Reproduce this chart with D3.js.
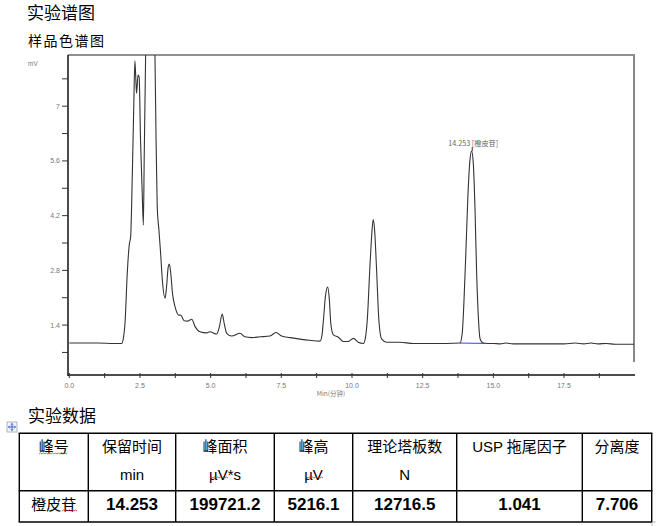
<!DOCTYPE html>
<html><head><meta charset="utf-8">
<script src="https://cdn.jsdelivr.net/npm/d3@7"></script>
<style>body{margin:0;background:#fff}svg{display:block}</style>
</head><body>
<svg id="c" width="670" height="526"></svg>
<script>
// ---- data ----
const chromTime = [0,1.0,1.6,1.85,1.92,1.97,2.05,2.12,2.17,2.23,2.28,2.32,2.36,2.38,2.43,2.47,2.52,2.58,2.62,2.65,2.70,2.78,2.87,2.96,3.03,3.07,3.11,3.17,3.23,3.30,3.39,3.44,3.50,3.54,3.59,3.65,3.74,3.86,3.95,4.06,4.18,4.33,4.45,4.62,4.86,4.98,5.21,5.31,5.41,5.48,5.57,5.74,6.04,6.21,6.45,6.75,7.10,7.31,7.51,7.81,8.16,8.50,8.87,8.94,8.99,9.06,9.14,9.20,9.25,9.34,9.52,9.69,9.87,10.05,10.22,10.40,10.48,10.54,10.64,10.71,10.75,10.80,10.87,10.95,11.05,11.23,11.70,12.17,13.35,13.82,13.90,13.96,14.03,14.10,14.17,14.23,14.29,14.35,14.41,14.47,14.53,14.62,14.77,15.0,15.24,15.45,15.7,16.5,17.5,17.9,18.2,18.45,18.7,19.0,19.3,19.98];
const chromSignal = [0.94,0.94,0.93,0.93,1.1,1.44,2.72,3.45,3.66,5.28,6.98,8.16,7.58,7.33,7.8,7.75,6.13,4.77,3.96,5.7,8.31,11.5,12.5,11.5,8.31,6.13,4.43,3.83,3.24,2.47,2.09,2.38,2.89,2.96,2.72,2.21,1.87,1.66,1.65,1.51,1.50,1.55,1.36,1.23,1.20,1.23,1.17,1.36,1.68,1.44,1.19,1.12,1.19,1.10,1.08,1.10,1.12,1.21,1.12,1.08,1.04,1.01,0.99,1.15,1.53,2.13,2.37,2.04,1.44,1.15,1.09,0.98,0.98,1.06,0.96,0.93,1.1,1.53,2.98,3.83,4.10,3.83,2.81,1.53,1.04,0.96,0.96,0.93,0.93,0.94,1.2,2.0,3.3,4.7,5.6,5.85,5.55,4.4,2.7,1.6,1.05,0.95,0.93,0.93,0.92,0.94,0.92,0.92,0.92,0.94,0.92,0.94,0.92,0.93,0.91,0.91];
const baselineTime = [13.82, 14.77];
const baselineSignal = [0.94, 0.93];
const peakTime = 14.253, peakSignal = 5.85, peakName = "14.253 [橙皮苷]";
const xMajorTicks = [0,2.5,5,7.5,10,12.5,15,17.5];
const xMinorTicks = [1.25,3.75,6.25,8.75,11.25,13.75,16.25,18.75];
const yMajorTicks = [1.4,2.8,4.2,5.6,7];
const yMinorTicks = [0.7,2.1,3.5,4.9,6.3,7.7];
const yTickLabels = ["1.4","2.8","4.2","5.6","7"];
const tableHeaders = ["峰号","保留时间","峰面积","峰高","理论塔板数","USP 拖尾因子","分离度"];
const tableUnits = ["","min","µV*s","µV","N","",""];
const tableRow = ["橙皮苷","14.253","199721.2","5216.1","12716.5","1.041","7.706"];

// ---- drawing ----
const svg = d3.select("#c");
const cjk = "'Noto Sans CJK SC','Noto Sans',sans-serif";
const lat = "'Liberation Sans',Arial,sans-serif";

svg.append("text").attr("x",27).attr("y",19).attr("font-family",cjk).attr("font-size",17).attr("fill","#000").text("实验谱图");
svg.append("text").attr("x",28).attr("y",46).attr("font-family",cjk).attr("font-size",14).attr("letter-spacing",1.5).attr("fill","#000").text("样品色谱图");

const L=68, R=634, T=55, B=375;
const x = d3.scaleLinear().domain([0,20]).range([69.3, 634.7]);
const y = d3.scaleLinear().domain([0,8.31]).range([379.8, 55]);

svg.append("defs").append("clipPath").attr("id","pc").append("rect").attr("x",L).attr("y",T).attr("width",R-L).attr("height",B-T);

// frame
svg.append("line").attr("x1",L).attr("x2",R+1).attr("y1",T).attr("y2",T).attr("stroke","#222").attr("stroke-width",1.2);
svg.append("line").attr("x1",R).attr("x2",R).attr("y1",T).attr("y2",362).attr("stroke","#888").attr("stroke-width",2);
svg.append("line").attr("x1",L).attr("x2",L).attr("y1",T).attr("y2",B+1).attr("stroke","#111").attr("stroke-width",1.5);
svg.append("line").attr("x1",L).attr("x2",635).attr("y1",B).attr("y2",B).attr("stroke","#111").attr("stroke-width",1.5);

// y ticks
const gy = svg.append("g");
gy.selectAll("line.ma").data(yMajorTicks).join("line").attr("x1",L-6).attr("x2",L).attr("y1",d=>y(d)).attr("y2",d=>y(d)).attr("stroke","#333");
gy.selectAll("line.mi").data(yMinorTicks).join("line").attr("class","mi").attr("x1",L-6).attr("x2",L).attr("y1",d=>y(d)).attr("y2",d=>y(d)).attr("stroke","#333");
gy.selectAll("text").data(yMajorTicks).join("text").attr("x",L-8).attr("y",d=>y(d)+2.5).attr("text-anchor","end")
  .attr("font-family",lat).attr("font-size",7).attr("fill","#777").text((d,i)=>yTickLabels[i]);
svg.append("text").attr("x",28).attr("y",66).attr("font-family",lat).attr("font-size",6.5).attr("fill","#777").text("mV");

// x ticks
const gx = svg.append("g");
gx.selectAll("line.ma").data(xMajorTicks).join("line").attr("x1",d=>x(d)).attr("x2",d=>x(d)).attr("y1",B-2).attr("y2",B+3).attr("stroke","#333");
gx.selectAll("line.mi").data(xMinorTicks).join("line").attr("class","mi").attr("x1",d=>x(d)).attr("x2",d=>x(d)).attr("y1",B-2).attr("y2",B+3).attr("stroke","#333");
gx.selectAll("text").data(xMajorTicks).join("text").attr("x",d=>x(d)).attr("y",388).attr("text-anchor","middle")
  .attr("font-family",lat).attr("font-size",7).attr("fill","#777").text(d=>d.toFixed(1));
svg.append("text").attr("x",331).attr("y",396).attr("text-anchor","middle").attr("font-family",cjk).attr("font-size",6.5).attr("fill","#777").text("Min(分钟)");

// chromatogram
const pts = chromTime.map((t,i)=>[t,chromSignal[i]]);
const line = d3.line().x(d=>x(d[0])).y(d=>y(d[1])).curve(d3.curveMonotoneX);
svg.append("path").attr("clip-path","url(#pc)").attr("d",line(pts)).attr("fill","none").attr("stroke","#333").attr("stroke-width",1.1);
svg.append("path").attr("d",d3.line().x(d=>x(d[0])).y(d=>y(d[1]))(baselineTime.map((t,i)=>[t,baselineSignal[i]])))
  .attr("fill","none").attr("stroke","#3344ff").attr("stroke-width",1);
// peak label
svg.append("line").attr("x1",x(peakTime)).attr("x2",x(peakTime)).attr("y1",y(peakSignal)-4).attr("y2",y(peakSignal)).attr("stroke","#333");
svg.append("text").attr("x",x(peakTime)+1).attr("y",y(peakSignal)-5).attr("text-anchor","middle").attr("font-family",cjk).attr("font-size",7.2).attr("fill","#666").text(peakName);

// table
svg.append("text").attr("x",28).attr("y",422).attr("font-family",cjk).attr("font-size",17).attr("fill","#000").text("实验数据");
// move handle
const mh = svg.append("g");
mh.append("rect").attr("x",7).attr("y",422).attr("width",10).attr("height",10).attr("fill","#f4f6fb").attr("stroke","#9aa3b5").attr("stroke-width",0.8);
mh.append("path").attr("d","M12,423.5V430.5M8.5,427H15.5M10.8,424.7L12,423.5L13.2,424.7M10.8,429.3L12,430.5L13.2,429.3M9.7,425.8L8.5,427L9.7,428.2M14.3,425.8L15.5,427L14.3,428.2").attr("fill","none").attr("stroke","#2a5bbf").attr("stroke-width",0.9);

const colX = [19.3,88.3,175.7,274.3,352.7,456.7,582.3,651.7];
const tT=433.3, tM=490.7, tB=522;
const gt = svg.append("g");
colX.forEach(cx=>gt.append("line").attr("x1",cx).attr("x2",cx).attr("y1",tT).attr("y2",tB).attr("stroke","#000").attr("stroke-width",1.4));
[tT,tM,tB].forEach(ry=>gt.append("line").attr("x1",colX[0]-0.7).attr("x2",colX[7]+0.7).attr("y1",ry).attr("y2",ry).attr("stroke","#000").attr("stroke-width",1.4));
const mid = i=>(colX[i]+colX[i+1])/2;
tableHeaders.forEach((h,i)=>gt.append("text").attr("x",mid(i)).attr("y",452).attr("text-anchor","middle").attr("font-family",i===5?"'Liberation Sans',"+cjk:cjk).attr("font-size",15).attr("fill","#000").text(h));
tableUnits.forEach((u,i)=>gt.append("text").attr("x",mid(i)).attr("y",480).attr("text-anchor","middle").attr("font-family",lat).attr("font-size",15).attr("fill","#000").text(u));
tableRow.forEach((v,i)=>gt.append("text").attr("x",mid(i)).attr("y",510).attr("text-anchor","middle")
  .attr("font-family",i===0?cjk:lat).attr("font-size",i===0?15:17).attr("font-weight",i===0?"normal":"600").attr("fill","#000").text(v));

// spelling squiggles
function squiggle(x0,x1,yy,col){let d=`M${x0},${yy}`;let up=true;for(let xx=x0+1.5;xx<=x1;xx+=1.5){d+=`L${xx},${yy+(up?-1:0)}`;up=!up;}
  gt.append("path").attr("d",d).attr("fill","none").attr("stroke",col).attr("stroke-width",0.8);}
squiggle(39,68,454,"#2a9a2a");
squiggle(210,228,478,"#e02020");
squiggle(305,323,478,"#e02020");
squiggle(62,77,511,"#e02020");
gt.append("path").attr("d","M652,522V526M652,522H656").attr("stroke","#aaa").attr("fill","none").attr("stroke-width",0.8);
</script>
</body></html>
